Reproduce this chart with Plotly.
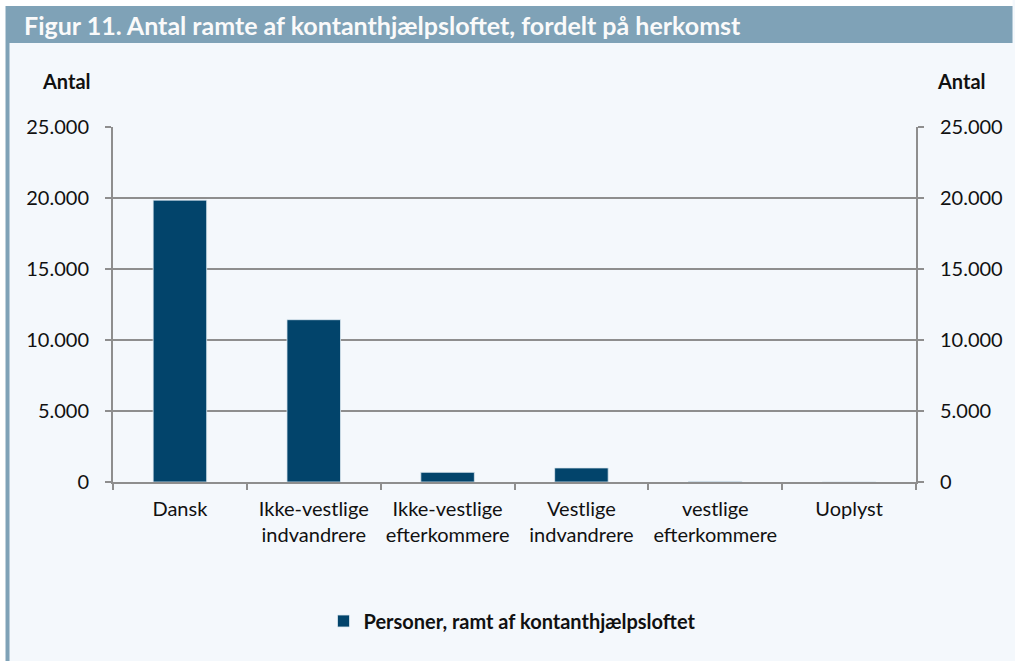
import plotly.graph_objects as go

categories = ["Dansk", "Ikke-vestlige<br>indvandrere", "Ikke-vestlige<br>efterkommere",
              "Vestlige<br>indvandrere", "vestlige<br>efterkommere", "Uoplyst"]
values = [19850, 11430, 680, 990, 40, 0]
tick_vals = [0, 5000, 10000, 15000, 20000, 25000]
series_name = "Personer, ramt af kontanthjælpsloftet"
title_text = "Figur 11. Antal ramte af kontanthjælpsloftet, fordelt på herkomst"

W, H = 1015, 661
L, R, T, B = 113, 920, 127, 482

def px(x):
    return (x - L) / (R - L)

def py(y):
    return (B - y) / (B - T)

BAR = "#02446B"
GRID = "#8E8E8E"
BG = "#F4F8FC"
FRAME = "#7FA2B7"
FONT = "Lato"

fig = go.Figure()
fig.add_trace(go.Bar(x=categories, y=values, name=series_name,
                     marker=dict(color=BAR, line=dict(color="#DDE8F0", width=0.8)), width=0.4))
fig.add_trace(go.Scatter(x=categories, y=values, yaxis="y2", mode="markers", marker=dict(opacity=0),
                         showlegend=False, hoverinfo="skip"))

shapes = [
    # white margin on top and left
    dict(type="rect", xref="paper", yref="paper", x0=px(-2), x1=px(W + 2), y0=py(6), y1=py(-2),
         fillcolor="white", line=dict(width=0), layer="below"),
    dict(type="rect", xref="paper", yref="paper", x0=px(-2), x1=px(5), y0=py(H + 2), y1=py(-2),
         fillcolor="white", line=dict(width=0), layer="below"),
    # left strip
    dict(type="rect", xref="paper", yref="paper", x0=px(5), x1=px(9), y0=py(H + 2), y1=py(43),
         fillcolor=FRAME, line=dict(width=0), layer="below"),
    # header
    dict(type="rect", xref="paper", yref="paper", x0=px(5), x1=px(W + 2), y0=py(43), y1=py(6),
         fillcolor=FRAME, line=dict(width=0), layer="below"),
]

annotations = [
    dict(text="<b>" + title_text + "</b>", xref="paper", yref="paper", x=px(22), y=py(25),
         xanchor="left", yanchor="middle", showarrow=False,
         font=dict(family=FONT, size=25, color="#FAFAFA")),
    dict(text="<b>Antal</b>", xref="paper", yref="paper", x=px(66), y=py(81),
         xanchor="center", yanchor="middle", showarrow=False,
         font=dict(family=FONT, size=20, color="#111111")),
    dict(text="<b>Antal</b>", xref="paper", yref="paper", x=px(966), y=py(81),
         xanchor="center", yanchor="middle", showarrow=False,
         font=dict(family=FONT, size=20, color="#111111")),
]

yax = dict(range=[0, 25000], tickvals=tick_vals, tickformat=",d", showgrid=True, gridcolor=GRID, gridwidth=1.5,
           showline=True, linecolor=GRID, linewidth=2, ticks="outside", ticklen=6, tickcolor=GRID, tickwidth=1.5,
           ticklabelstandoff=12,
           tickfont=dict(family=FONT, size=20, color="#111111"), zeroline=False, fixedrange=True)

fig.update_layout(
    width=W, height=H,
    margin=dict(l=L, r=W - R, t=T, b=H - B),
    paper_bgcolor=BG, plot_bgcolor="rgba(0,0,0,0)",
    separators=",.",
    font=dict(family=FONT, color="#111111"),
    xaxis=dict(showline=True, linecolor=GRID, linewidth=2, ticks="outside", tickson="boundaries",
               ticklen=6, tickcolor=GRID, tickwidth=1.5, ticklabelstandoff=8,
               tickfont=dict(family=FONT, size=20, color="#111111"), showgrid=False, fixedrange=True),
    yaxis=yax,
    yaxis2=dict(yax, overlaying="y", side="right", showgrid=False),
    showlegend=True,
    legend=dict(orientation="h", x=px(514), xanchor="center", y=py(621), yanchor="middle",
                font=dict(family=FONT, size=20, color="#111111", weight="bold"), bgcolor="rgba(0,0,0,0)"),
    shapes=shapes, annotations=annotations,
    bargap=0.6,
)

fig.write_html(
    "out.html",
    config={"displayModeBar": False},
    post_script=("document.documentElement.style.overflow='hidden';"
                 "document.body.style.margin='0px';document.body.style.overflow='hidden';"
                 "document.body.style.background='" + BG + "';"),
)
